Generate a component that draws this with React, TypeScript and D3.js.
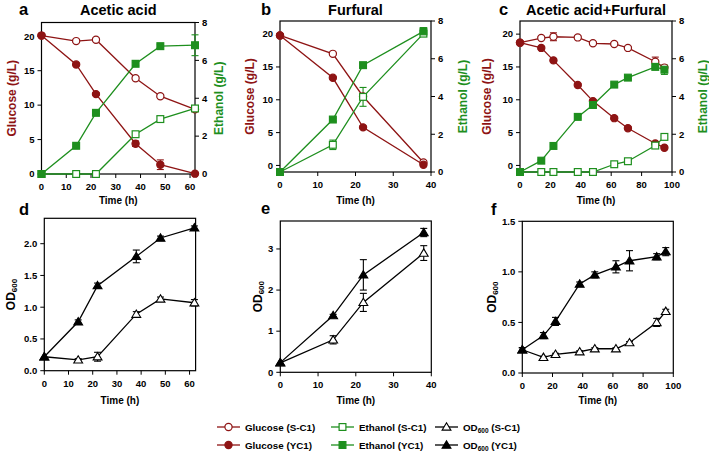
import React from "react";
import * as d3 from "d3";

const RED = "#8e1414";
const GREEN = "#1e8f1e";
const BLACK = "#000";
const FONT = "Arial, 'Liberation Sans', sans-serif";

// ---- Data ----
const timeA = [0, 14, 22, 38, 48, 62];
const glcScA = [20.1, 19.3, 19.5, 13.9, 11.3, 9.4];
const glcScAErr = [0, 0.2, 0.2, 0.2, 0.2, 0.3];
const glcYcA = [20.1, 15.9, 11.6, 4.4, 1.35, 0.05];
const glcYcAErr = [0, 0.2, 0.2, 0.4, 0.7, 0.1];
const ethScA = [0, 0, 0, 2.1, 2.9, 3.46];
const ethScAErr = [0, 0, 0, 0.08, 0.15, 0.15];
const ethYcA = [0, 1.49, 3.23, 5.82, 6.75, 6.8];
const ethYcAErr = [0, 0.05, 0.05, 0.08, 0.08, 0.55];

const timeB = [0, 14, 22, 38];
const glcScB = [19.8, 17.0, 10.5, 0.45];
const glcScBErr = [0, 0.2, 0.3, 0.2];
const glcYcB = [19.8, 13.35, 5.8, 0.1];
const glcYcBErr = [0, 0.2, 0.2, 0.2];
const ethScB = [0, 1.44, 3.98, 7.33];
const ethScBErr = [0, 0.25, 0.5, 0.15];
const ethYcB = [0, 2.78, 5.66, 7.45];
const ethYcBErr = [0, 0.08, 0.12, 0.2];

const timeC = [0, 14, 22, 38, 48, 62, 71, 89, 95];
const glcScC = [18.7, 19.4, 19.6, 19.5, 18.6, 18.5, 17.9, 15.8, 14.9];
const glcScCErr = [0, 0.2, 0.6, 0.2, 0.2, 0.2, 0.2, 0.7, 0.3];
const glcYcC = [18.7, 17.9, 16.0, 12.25, 9.8, 7.2, 5.67, 3.34, 2.7];
const glcYcCErr = [0, 0.2, 0.2, 0.2, 0.2, 0.2, 0.2, 0.2, 0.2];
const ethScC = [0, 0, 0, 0, 0, 0.41, 0.57, 1.4, 1.86];
const ethScCErr = [0, 0, 0, 0, 0, 0.05, 0.05, 0.08, 0.08];
const ethYcC = [0, 0.6, 1.38, 2.92, 3.55, 4.63, 5.0, 5.57, 5.42];
const ethYcCErr = [0, 0.05, 0.05, 0.05, 0.05, 0.08, 0.08, 0.15, 0.25];

const odScD = [0.22, 0.17, 0.22, 0.89, 1.13, 1.07];
const odScDErr = [0, 0.02, 0.07, 0.04, 0.03, 0.05];
const odYcD = [0.22, 0.77, 1.34, 1.8, 2.09, 2.25];
const odYcDErr = [0, 0.03, 0.04, 0.1, 0.03, 0.03];

const odScE = [0.23, 0.79, 1.7, 2.9];
const odScEErr = [0, 0.1, 0.22, 0.18];
const odYcE = [0.235, 1.38, 2.37, 3.4];
const odYcEErr = [0, 0.03, 0.37, 0.1];

const odScF = [0.23, 0.155, 0.185, 0.21, 0.24, 0.24, 0.3, 0.5, 0.61];
const odScFErr = [0.02, 0.01, 0.01, 0.01, 0.01, 0.01, 0.01, 0.04, 0.02];
const odYcF = [0.23, 0.37, 0.51, 0.88, 0.97, 1.05, 1.11, 1.15, 1.2];
const odYcFErr = [0.02, 0.03, 0.04, 0.02, 0.03, 0.06, 0.1, 0.03, 0.04];

const ticksXA = [0, 10, 20, 30, 40, 50, 60];
const ticksXB = [0, 10, 20, 30, 40];
const ticksXC = [0, 20, 40, 60, 80, 100];
const ticksGlc = [0, 5, 10, 15, 20];
const ticksEth = [0, 2, 4, 6, 8];
const ticksOdD = [0, 0.5, 1.0, 1.5, 2.0];
const ticksOdE = [0, 1, 2, 3];
const ticksOdF = [0, 0.5, 1.0, 1.5];

type Marker = "circle" | "square" | "triangle";
interface Series {
  t: number[];
  v: number[];
  e: number[];
  color: string;
  marker: Marker;
  filled: boolean;
  axis: "left" | "right";
}

function MarkerShape({ x, y, marker, filled, color }: { x: number; y: number; marker: Marker; filled: boolean; color: string }) {
  const fill = filled ? color : "#fff";
  if (marker === "circle") return <circle cx={x} cy={y} r={3.6} fill={fill} stroke={color} strokeWidth={1.2} />;
  if (marker === "square") return <rect x={x - 3.4} y={y - 3.4} width={6.8} height={6.8} fill={fill} stroke={color} strokeWidth={1.2} />;
  const s = 4.2;
  return <path d={`M${x},${y - s}L${x + s * 1.05},${y + s * 0.75}L${x - s * 1.05},${y + s * 0.75}Z`} fill={fill} stroke={color} strokeWidth={1.1} />;
}

interface PanelProps {
  x0: number; x1: number; y0: number; y1: number;
  xDomain: [number, number]; xTicks: number[];
  lDomain: [number, number]; lTicks: number[]; lFmt: (v: number) => string;
  rDomain?: [number, number]; rTicks?: number[];
  series: Series[];
  letter: string; letterX: number; letterY: number;
  title?: string;
  lLabel: React.ReactNode; lLabelX: number; lColor: string;
  rLabelX?: number;
  timeY: number;
}

function Panel(p: PanelProps) {
  const xs = d3.scaleLinear().domain(p.xDomain).range([p.x0, p.x1]);
  const ls = d3.scaleLinear().domain(p.lDomain).range([p.y1, p.y0]);
  const rs = p.rDomain ? d3.scaleLinear().domain(p.rDomain).range([p.y1, p.y0]) : null;
  const line = d3.line<[number, number]>().x((d) => d[0]).y((d) => d[1]);
  const tick = 4;
  const cy = (p.y0 + p.y1) / 2;
  return (
    <g>
      <text x={p.letterX} y={p.letterY} fontSize={16.5} fontWeight="bold" fontFamily={FONT}>{p.letter}</text>
      {p.title && (
        <text x={(p.x0 + p.x1) / 2} y={15} textAnchor="middle" fontSize={14.5} fontWeight="bold" fontFamily={FONT}>{p.title}</text>
      )}
      <rect x={p.x0} y={p.y0} width={p.x1 - p.x0} height={p.y1 - p.y0} fill="none" stroke="#000" strokeWidth={1.2} />
      {p.xTicks.map((t) => (
        <g key={"x" + t}>
          <line x1={xs(t)} x2={xs(t)} y1={p.y1} y2={p.y1 + tick} stroke="#000" strokeWidth={1} />
          <text x={xs(t)} y={p.y1 + 16} textAnchor="middle" fontSize={9.5} fontWeight="bold" fontFamily={FONT}>{t}</text>
        </g>
      ))}
      {p.lTicks.map((t) => (
        <g key={"l" + t}>
          <line x1={p.x0 - tick} x2={p.x0} y1={ls(t)} y2={ls(t)} stroke="#000" strokeWidth={1} />
          <text x={p.x0 - 7} y={ls(t) + 3.3} textAnchor="end" fontSize={9.5} fontWeight="bold" fontFamily={FONT}>{p.lFmt(t)}</text>
        </g>
      ))}
      {rs && p.rTicks!.map((t) => (
        <g key={"r" + t}>
          <line x1={p.x1} x2={p.x1 + tick} y1={rs(t)} y2={rs(t)} stroke="#000" strokeWidth={1} />
          <text x={p.x1 + 7} y={rs(t) + 3.3} textAnchor="start" fontSize={9.5} fontWeight="bold" fontFamily={FONT}>{t}</text>
        </g>
      ))}
      <text x={(p.x0 + p.x1) / 2} y={p.timeY} textAnchor="middle" fontSize={10} fontWeight="bold" fontFamily={FONT}>Time (h)</text>
      <text transform={`translate(${p.lLabelX},${cy}) rotate(-90)`} textAnchor="middle" dominantBaseline="central" fontSize={12} fontWeight="bold" fontFamily={FONT} fill={p.lColor}>{p.lLabel}</text>
      {p.rLabelX !== undefined && (
        <text transform={`translate(${p.rLabelX},${cy}) rotate(-90)`} textAnchor="middle" dominantBaseline="central" fontSize={12} fontWeight="bold" fontFamily={FONT} fill={GREEN}>Ethanol (g/L)</text>
      )}
      {p.series.map((s, i) => {
        const sc = s.axis === "left" ? ls : rs!;
        const pts: [number, number][] = s.t.map((t, j) => [xs(t), sc(s.v[j])]);
        return <path key={"ln" + i} d={line(pts)!} fill="none" stroke={s.color} strokeWidth={1.3} />;
      })}
      {p.series.map((s, i) => {
        const sc = s.axis === "left" ? ls : rs!;
        return (
          <g key={"eb" + i}>
            {s.t.map((t, j) => {
              const e = s.e[j];
              if (!e) return null;
              const x = xs(t);
              const ya = sc(s.v[j] + e), yb = sc(s.v[j] - e);
              return (
                <g key={j}>
                  <line x1={x} x2={x} y1={ya} y2={yb} stroke={s.color} strokeWidth={1.1} />
                  <line x1={x - 3.5} x2={x + 3.5} y1={ya} y2={ya} stroke={s.color} strokeWidth={1.1} />
                  <line x1={x - 3.5} x2={x + 3.5} y1={yb} y2={yb} stroke={s.color} strokeWidth={1.1} />
                </g>
              );
            })}
          </g>
        );
      })}
      {p.series.map((s, i) => {
        const sc = s.axis === "left" ? ls : rs!;
        return (
          <g key={"mk" + i}>
            {s.t.map((t, j) => (
              <MarkerShape key={j} x={xs(t)} y={sc(s.v[j])} marker={s.marker} filled={s.filled} color={s.color} />
            ))}
          </g>
        );
      })}
    </g>
  );
}

const fmtInt = (v: number) => d3.format("d")(v);
const fmt1 = (v: number) => d3.format(".1f")(v);

function mk(t: number[], v: number[], e: number[], color: string, marker: Marker, filled: boolean, axis: "left" | "right"): Series {
  return { t, v, e, color, marker, filled, axis };
}

const odLabel = (
  <>
    OD<tspan fontSize={8} dy={3}>600</tspan>
  </>
);

export default function App() {
  const legendItems = [
    { label: "Glucose (S-C1)", color: RED, marker: "circle" as Marker, filled: false, x: 217, y: 427, od: false },
    { label: "Glucose (YC1)", color: RED, marker: "circle" as Marker, filled: true, x: 217, y: 445, od: false },
    { label: "Ethanol (S-C1)", color: GREEN, marker: "square" as Marker, filled: false, x: 331, y: 427, od: false },
    { label: "Ethanol (YC1)", color: GREEN, marker: "square" as Marker, filled: true, x: 331, y: 445, od: false },
    { label: " (S-C1)", color: BLACK, marker: "triangle" as Marker, filled: false, x: 435, y: 427, od: true },
    { label: " (YC1)", color: BLACK, marker: "triangle" as Marker, filled: true, x: 435, y: 445, od: true },
  ];
  return (
    <svg width={709} height={452} style={{ position: "absolute", left: 0, top: 0, background: "#fff" }}>
      <rect width={709} height={452} fill="#fff" />
      <Panel
        x0={41.5} x1={195} y0={22.5} y1={174}
        xDomain={[0, 62]} xTicks={ticksXA}
        lDomain={[0, 22]} lTicks={ticksGlc} lFmt={fmtInt}
        rDomain={[0, 8]} rTicks={ticksEth}
        series={[
          mk(timeA, glcScA, glcScAErr, RED, "circle", false, "left"),
          mk(timeA, glcYcA, glcYcAErr, RED, "circle", true, "left"),
          mk(timeA, ethScA, ethScAErr, GREEN, "square", false, "right"),
          mk(timeA, ethYcA, ethYcAErr, GREEN, "square", true, "right"),
        ]}
        letter="a" letterX={19} letterY={15} title="Acetic acid"
        lLabel="Glucose (g/L)" lLabelX={12} lColor={RED} rLabelX={219} timeY={204}
      />
      <Panel
        x0={280} x1={431} y0={21} y1={172}
        xDomain={[0, 40]} xTicks={ticksXB}
        lDomain={[-1, 22]} lTicks={ticksGlc} lFmt={fmtInt}
        rDomain={[0, 8]} rTicks={ticksEth}
        series={[
          mk(timeB, glcScB, glcScBErr, RED, "circle", false, "left"),
          mk(timeB, glcYcB, glcYcBErr, RED, "circle", true, "left"),
          mk(timeB, ethScB, ethScBErr, GREEN, "square", false, "right"),
          mk(timeB, ethYcB, ethYcBErr, GREEN, "square", true, "right"),
        ]}
        letter="b" letterX={261} letterY={15} title="Furfural"
        lLabel="Glucose (g/L)" lLabelX={250} lColor={RED} rLabelX={463} timeY={204}
      />
      <Panel
        x0={520} x1={672} y0={21} y1={172}
        xDomain={[0, 100]} xTicks={ticksXC}
        lDomain={[-1, 22]} lTicks={ticksGlc} lFmt={fmtInt}
        rDomain={[0, 8]} rTicks={ticksEth}
        series={[
          mk(timeC, glcScC, glcScCErr, RED, "circle", false, "left"),
          mk(timeC, glcYcC, glcYcCErr, RED, "circle", true, "left"),
          mk(timeC, ethScC, ethScCErr, GREEN, "square", false, "right"),
          mk(timeC, ethYcC, ethYcCErr, GREEN, "square", true, "right"),
        ]}
        letter="c" letterX={499} letterY={15} title="Acetic acid+Furfural"
        lLabel="Glucose (g/L)" lLabelX={487} lColor={RED} rLabelX={703} timeY={204}
      />
      <Panel
        x0={44.3} x1={195.6} y0={218.3} y1={370.7}
        xDomain={[0, 62.5]} xTicks={ticksXA}
        lDomain={[0, 2.4]} lTicks={ticksOdD} lFmt={fmt1}
        series={[
          mk(timeA, odScD, odScDErr, BLACK, "triangle", false, "left"),
          mk(timeA, odYcD, odYcDErr, BLACK, "triangle", true, "left"),
        ]}
        letter="d" letterX={19} letterY={215}
        lLabel={odLabel} lLabelX={11} lColor={BLACK} timeY={404}
      />
      <Panel
        x0={280.3} x1={431.3} y0={221} y1={372.3}
        xDomain={[0, 40]} xTicks={ticksXB}
        lDomain={[0, 3.68]} lTicks={ticksOdE} lFmt={fmtInt}
        series={[
          mk(timeB, odScE, odScEErr, BLACK, "triangle", false, "left"),
          mk(timeB, odYcE, odYcEErr, BLACK, "triangle", true, "left"),
        ]}
        letter="e" letterX={261} letterY={214}
        lLabel={odLabel} lLabelX={258} lColor={BLACK} timeY={404}
      />
      <Panel
        x0={522.3} x1={673.3} y0={221.3} y1={373}
        xDomain={[0, 100]} xTicks={ticksXC}
        lDomain={[0, 1.5]} lTicks={ticksOdF} lFmt={fmt1}
        series={[
          mk(timeC, odScF, odScFErr, BLACK, "triangle", false, "left"),
          mk(timeC, odYcF, odYcFErr, BLACK, "triangle", true, "left"),
        ]}
        letter="f" letterX={491} letterY={215}
        lLabel={odLabel} lLabelX={492} lColor={BLACK} timeY={404}
      />
      {legendItems.map((it, i) => (
        <g key={i}>
          <line x1={it.x} x2={it.x + 23} y1={it.y} y2={it.y} stroke={it.color} strokeWidth={1.3} />
          <MarkerShape x={it.x + 11.5} y={it.y} marker={it.marker} filled={it.filled} color={it.color} />
          <text x={it.x + 28} y={it.y + 3.5} fontSize={9.8} fontWeight="bold" fontFamily={FONT}>
            {it.od ? (
              <>
                OD<tspan fontSize={6.5} dy={2.5}>600</tspan>
                <tspan dy={-2.5}>{it.label}</tspan>
              </>
            ) : (
              it.label
            )}
          </text>
        </g>
      ))}
    </svg>
  );
}
